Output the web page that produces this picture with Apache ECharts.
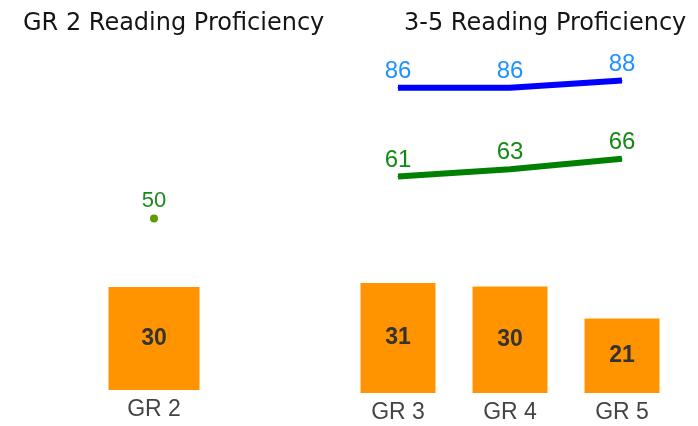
<!DOCTYPE html>
<html>
<head>
<meta charset="utf-8">
<script src="https://cdn.jsdelivr.net/npm/echarts@6/dist/echarts.min.js"></script>
<style>
  html, body { margin: 0; padding: 0; background: #fff; }
  #chart { width: 698px; height: 426px; }
</style>
</head>
<body>
<div id="chart"></div>
<script>
// grade 2 panel
const gr2Categories = ['GR 2']
const gr2Bars = [30]
const gr2Point = [50]

// grades 3-5 panel
const gr35Categories = ['GR 3', 'GR 4', 'GR 5']
const gr35Bars = [31, 30, 21]
const gr35Blue = [86, 86, 88]
const gr35Green = [61, 63, 66]

const BAR_COLOR = '#ff9400'
const LABEL_FONT = 'Arial, "Liberation Sans", sans-serif'
const TITLE_FONT = '"DejaVu Sans", sans-serif'

const chart = echarts.init(document.getElementById('chart'))

const barLabel = {
  show: true, position: 'inside',
  fontFamily: LABEL_FONT, fontSize: 23, fontWeight: 'bold', color: '#333',
}

const hiddenY = {
  type: 'value', min: 0, max: 100,
  axisLine: { show: false }, axisTick: { show: false },
  axisLabel: { show: false }, splitLine: { show: false },
}

const catAxis = (gridIndex, data) => ({
  type: 'category', gridIndex, data,
  axisLine: { show: false }, axisTick: { show: false },
  axisLabel: { fontFamily: LABEL_FONT, fontSize: 23, color: '#444', margin: 8 },
})

const titleStyle = { fontFamily: TITLE_FONT, fontSize: 24, fontWeight: 'normal', color: '#151515' }

chart.setOption({
  animation: false,
  title: [
    { text: 'GR 2 Reading Proficiency', left: 18, top: 7, textStyle: titleStyle },
    { text: '3-5 Reading Proficiency', left: 399, top: 7, textStyle: titleStyle },
  ],
  grid: [
    { left: 86, width: 136, top: 47, bottom: 36 },
    { left: 342, width: 336, top: 38, bottom: 33 },
  ],
  xAxis: [catAxis(0, gr2Categories), catAxis(1, gr35Categories)],
  yAxis: [{ ...hiddenY, gridIndex: 0 }, { ...hiddenY, gridIndex: 1 }],
  series: [
    {
      type: 'bar', xAxisIndex: 0, yAxisIndex: 0, data: gr2Bars,
      barWidth: 91, itemStyle: { color: BAR_COLOR }, label: barLabel,
    },
    {
      type: 'scatter', xAxisIndex: 0, yAxisIndex: 0, data: gr2Point,
      symbolSize: 8, itemStyle: { color: '#609a00', opacity: 1 },
      label: { show: true, position: 'top', distance: 3, fontFamily: LABEL_FONT, fontSize: 22, color: '#1a8a1a' },
    },
    {
      type: 'bar', xAxisIndex: 1, yAxisIndex: 1, data: gr35Bars,
      barWidth: 75, itemStyle: { color: BAR_COLOR }, label: barLabel,
    },
    {
      type: 'line', xAxisIndex: 1, yAxisIndex: 1, data: gr35Blue,
      symbol: 'circle', symbolSize: 1,
      lineStyle: { color: '#0000ff', width: 6 }, itemStyle: { color: '#0000ff' },
      label: { show: true, position: 'top', distance: 4, fontFamily: LABEL_FONT, fontSize: 24, color: '#1e90ff' },
    },
    {
      type: 'line', xAxisIndex: 1, yAxisIndex: 1, data: gr35Green,
      symbol: 'circle', symbolSize: 1,
      lineStyle: { color: '#008000', width: 6 }, itemStyle: { color: '#008000' },
      label: { show: true, position: 'top', distance: 4, fontFamily: LABEL_FONT, fontSize: 24, color: '#138a13' },
    },
  ],
})
</script>
</body>
</html>
